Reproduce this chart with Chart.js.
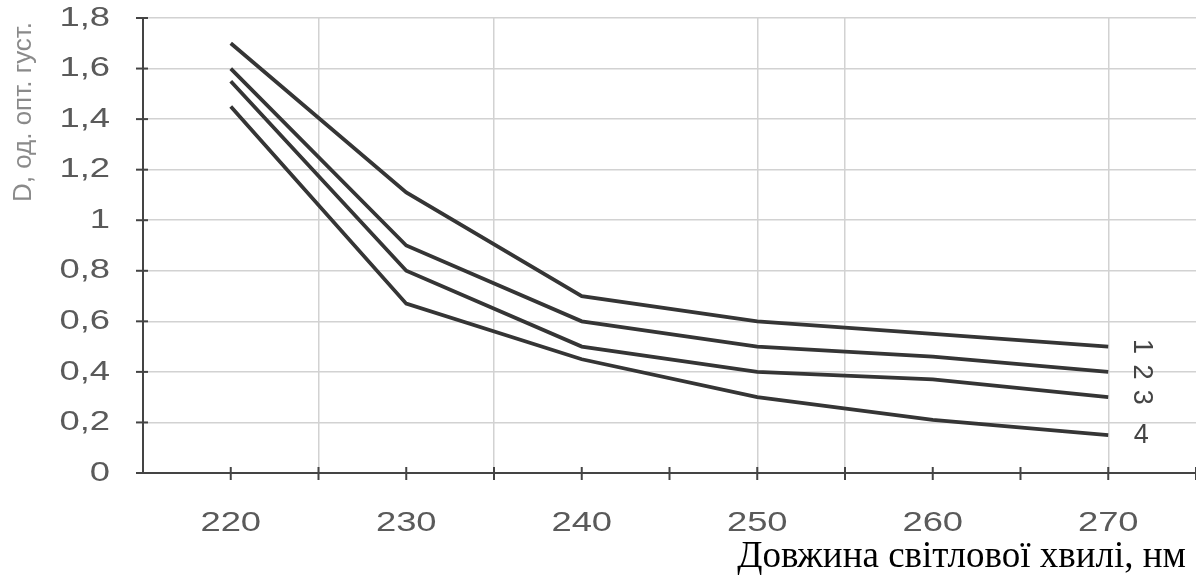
<!DOCTYPE html>
<html>
<head>
<meta charset="utf-8">
<script src="https://cdn.jsdelivr.net/npm/chart.js@4"></script>
<style>
  html, body { margin: 0; padding: 0; background: #fff; }
  #wrap { width: 1196px; height: 577px; position: relative; }
</style>
</head>
<body>
<div id="wrap"><canvas id="chart"></canvas></div>
<script>
// Optical density spectra, curves 1-4
const wavelengths = [220, 230, 240, 250, 260, 270];
const curve1 = [1.70, 1.11, 0.70, 0.60, 0.55, 0.50];
const curve2 = [1.60, 0.90, 0.60, 0.50, 0.46, 0.40];
const curve3 = [1.55, 0.80, 0.50, 0.40, 0.37, 0.30];
const curve4 = [1.45, 0.67, 0.45, 0.30, 0.21, 0.15];
const curveNames = ['1', '2', '3', '4'];

const yTicks = [0, 0.2, 0.4, 0.6, 0.8, 1, 1.2, 1.4, 1.6, 1.8];
const xTickLabels = [220, 230, 240, 250, 260, 270];
const xMinorTicks = [220, 225, 230, 235, 240, 245, 250, 255, 260, 265, 270, 275];
const xGridLines = [225, 235, 250, 255, 270];

const yTitle = 'D, од. опт. густ.';
const xTitle = 'Довжина світлової хвилі, нм';

const lineColor = '#353535';
const axisColor = '#444';

function fmt(v) {
    return Number.isInteger(v) ? String(v) : String(v).replace('.', ',');
}

function toPoints(values) {
    return values.map((v, i) => ({ x: wavelengths[i], y: v }));
}

function stretchedText(ctx, text, x, y, align, sx) {
    ctx.save();
    ctx.translate(x, y);
    ctx.scale(sx, 1);
    ctx.textAlign = align;
    ctx.fillText(text, 0, 0);
    ctx.restore();
}

// draws tick labels, tick marks, titles and curve numbers
const decorations = {
    id: 'decorations',
    afterDraw(chart) {
        const ctx = chart.ctx;
        const xs = chart.scales.x;
        const ys = chart.scales.y;
        const area = chart.chartArea;

        ctx.save();
        ctx.strokeStyle = axisColor;
        ctx.lineWidth = 2;
        // y tick marks crossing the axis
        yTicks.forEach(v => {
            const y = ys.getPixelForValue(v);
            ctx.beginPath();
            ctx.moveTo(area.left - 7, y);
            ctx.lineTo(area.left + 5, y);
            ctx.stroke();
        });
        // x tick marks crossing the axis
        xMinorTicks.forEach(v => {
            const x = xs.getPixelForValue(v);
            ctx.beginPath();
            ctx.moveTo(x, area.bottom - 6);
            ctx.lineTo(x, area.bottom + 7);
            ctx.stroke();
        });

        // tick labels
        ctx.fillStyle = '#5a5a5a';
        ctx.font = '28px "Liberation Sans", Arial, sans-serif';
        ctx.textBaseline = 'middle';
        yTicks.forEach(v => {
            stretchedText(ctx, fmt(v), 110, ys.getPixelForValue(v), 'right', 1.3);
        });
        xTickLabels.forEach(v => {
            stretchedText(ctx, String(v), xs.getPixelForValue(v), 523, 'center', 1.3);
        });

        // y axis title, rotated
        ctx.fillStyle = '#8a8a8a';
        ctx.font = '26px "Liberation Sans", Arial, sans-serif';
        ctx.save();
        ctx.translate(24, 112);
        ctx.rotate(-Math.PI / 2);
        ctx.textAlign = 'center';
        ctx.fillText(yTitle, 0, 0);
        ctx.restore();

        // curve numbers at the right end of each line
        const lastX = xs.getPixelForValue(wavelengths[wavelengths.length - 1]) + 33;
        const ends = [curve1, curve2, curve3, curve4].map(c => c[c.length - 1]);
        ctx.fillStyle = '#444';
        ctx.font = '27px "Liberation Sans", Arial, sans-serif';
        ctx.textAlign = 'center';
        ends.forEach((v, i) => {
            const y = ys.getPixelForValue(v);
            ctx.save();
            ctx.translate(lastX, y);
            if (i < 3) ctx.rotate(Math.PI / 2);
            ctx.fillText(curveNames[i], 0, 0);
            ctx.restore();
        });

        // x axis title
        ctx.fillStyle = '#000';
        ctx.font = '37px "Liberation Serif", "Times New Roman", serif';
        ctx.textAlign = 'right';
        ctx.textBaseline = 'alphabetic';
        ctx.fillText(xTitle, 1186, 567);
        ctx.restore();
    }
};

const datasets = [curve1, curve2, curve3, curve4].map((c, i) => ({
    label: curveNames[i],
    data: toPoints(c),
    borderColor: lineColor,
    borderWidth: 3.8,
    pointRadius: 0,
    tension: 0,
    fill: false
}));

new Chart(document.getElementById('chart').getContext('2d'), {
    type: 'line',
    data: { datasets: datasets },
    options: {
        responsive: true,
        maintainAspectRatio: false,
        animation: false,
        layout: { padding: { top: 18, right: 0, left: 0, bottom: 0 } },
        plugins: {
            legend: { display: false },
            tooltip: { enabled: false }
        },
        scales: {
            x: {
                type: 'linear',
                min: 215,
                max: 275,
                ticks: { display: false, stepSize: 5 },
                grid: {
                    drawTicks: false,
                    lineWidth: 1.5,
                    color: ctx => xGridLines.includes(ctx.tick && ctx.tick.value) ? '#d2d2d2' : 'transparent'
                },
                border: { display: true, color: axisColor, width: 2 },
                afterFit: scale => { scale.height = 104; }
            },
            y: {
                min: 0,
                max: 1.8,
                ticks: { display: false, stepSize: 0.2 },
                grid: {
                    drawTicks: false,
                    lineWidth: 1.5,
                    color: ctx => (ctx.tick && ctx.tick.value > 0) ? '#d2d2d2' : 'transparent'
                },
                border: { display: true, color: axisColor, width: 2 },
                afterFit: scale => { scale.width = 143; }
            }
        }
    },
    plugins: [decorations]
});
</script>
</body>
</html>
